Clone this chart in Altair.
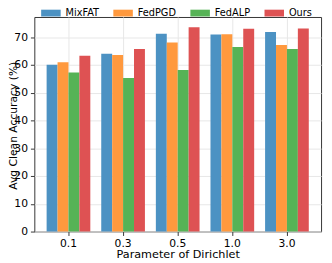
import altair as alt
import pandas as pd

categories = ["0.1", "0.3", "0.5", "1.0", "3.0"]
methods = ["MixFAT", "FedPGD", "FedALP", "Ours"]
mixfat = [60.1, 64.1, 71.3, 71.0, 71.9]
fedpgd = [61.0, 63.6, 68.1, 71.1, 67.2]
fedalp = [57.3, 55.3, 58.2, 66.5, 65.8]
ours = [63.3, 65.8, 73.6, 73.1, 73.2]
colors = ["#4c92c3", "#ff993e", "#56b356", "#de5253"]

rows = []
for m, vals in zip(methods, [mixfat, fedpgd, fedalp, ours]):
    for c, v in zip(categories, vals):
        rows.append({"cat": c, "method": m, "acc": v})
df = pd.DataFrame(rows)

font = "DejaVu Sans"
chart = alt.Chart(df).mark_bar().encode(
    x=alt.X("cat:N", sort=categories, title="Parameter of Dirichlet",
            scale=alt.Scale(paddingInner=0.2, paddingOuter=0.225),
            axis=alt.Axis(labelAngle=0, labelFontSize=11, titleFontSize=11.5,
                          labelFont=font, titleFont=font, labelColor="black",
                          titleColor="black", titleFontWeight="normal",
                          tickColor="#333", tickSize=4, domain=False,
                          titleY=27, titleBaseline="alphabetic",
                          labelPadding=2, grid=True, gridColor="#e6e6e6")),
    xOffset=alt.XOffset("method:N", sort=methods),
    y=alt.Y("acc:Q", title="Avg Clean Accuracy (%)",
            scale=alt.Scale(domain=[0, 77.3], nice=False),
            axis=alt.Axis(values=[0, 10, 20, 30, 40, 50, 60, 70], labelFontSize=11,
                          titleFontSize=11, labelFont=font, titleFont=font,
                          labelColor="black", titleColor="black",
                          titleFontWeight="normal", tickColor="#333", tickSize=4,
                          domain=False, titleX=-16, titleY=111,
                          labelPadding=3, gridColor="#e6e6e6")),
    color=alt.Color("method:N", sort=methods,
                    scale=alt.Scale(domain=methods, range=colors),
                    legend=alt.Legend(title=None, orient="none", direction="horizontal",
                                      legendX=7, legendY=-14,
                                      symbolType="M-1,-0.35L1,-0.35L1,0.35L-1,0.35Z",
                                      symbolSize=400, symbolStrokeWidth=0,
                                      labelFont=font, labelFontSize=10,
                                      labelColor="black", columnPadding=14,
                                      labelOffset=5, symbolOpacity=1)),
).properties(
    width=294, height=220,
    autosize=alt.AutoSizeParams(type="none"),
    padding={"left": 27, "top": 6, "right": 3, "bottom": 29},
).configure_view(
    stroke="#333", strokeWidth=1
)

chart.save("out.html", embed_options={"renderer": "svg", "actions": False})
